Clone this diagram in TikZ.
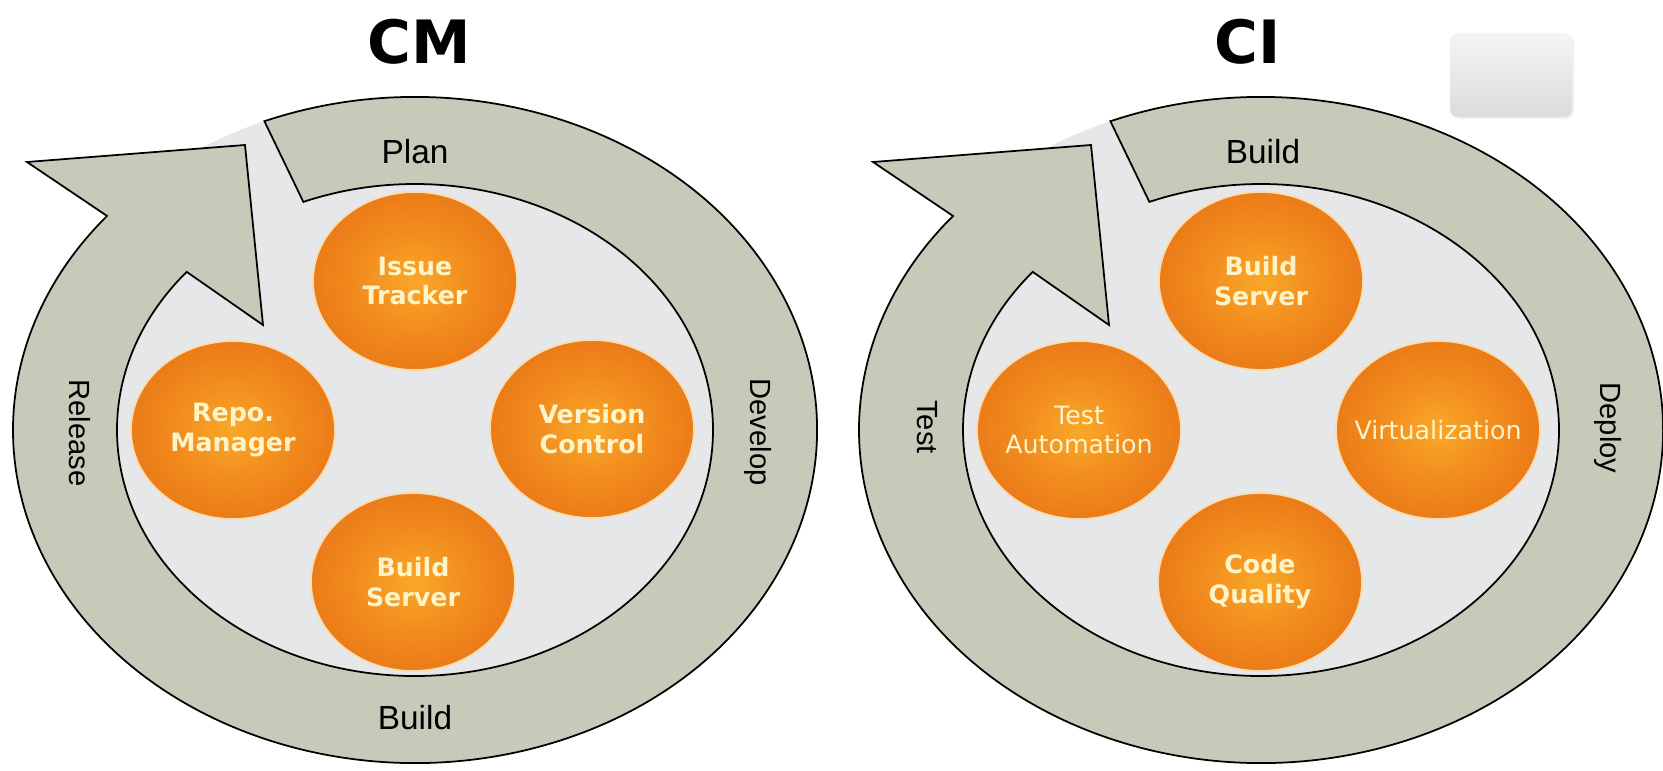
\documentclass[tikz,border=0pt]{standalone}
\usepackage{fontspec}
\usepackage{tikz}
\usetikzlibrary{shapes.geometric,shadows}

\newfontfamily\bubblefont{DejaVu Sans}
\newfontfamily\phasefont{Liberation Sans}

\definecolor{ringgray}{HTML}{C9C9B9}
\definecolor{fieldgray}{HTML}{E6E7E9}
\definecolor{bubblein}{HTML}{F9A828}
\definecolor{bubblemid}{HTML}{F28C1E}
\definecolor{bubbleout}{HTML}{E0630F}
\definecolor{bubbleedge}{HTML}{F8DDB2}
\definecolor{bubbletext}{HTML}{FFF3C8}

\pgfdeclareradialshading{bubble}{\pgfpoint{0bp}{0bp}}{color(0bp)=(bubblein); color(14bp)=(bubblemid); color(42bp)=(bubbleout); color(50bp)=(bubbleout)}

\begin{document}
\begin{tikzpicture}[
	ring/.style={fill=ringgray, draw=black, line width=0.5pt},
	tool/.style={shape=ellipse, minimum width=2.04cm, minimum height=1.78cm, inner sep=0pt, inner xsep=-4mm, shade, shading=bubble, draw=bubbleedge, line width=0.5pt, text=bubbletext, align=center, font=\bubblefont\bfseries\fontsize{7.2}{8.5}\selectfont},
	toolthin/.style={tool, font=\bubblefont\fontsize{7.2}{8.5}\selectfont},
	phase/.style={font=\phasefont\fontsize{9.5}{11}\selectfont},
	sidephase/.style={rotate=-90, font=\phasefont\fontsize{8.3}{10}\selectfont},
	title/.style={font=\bubblefont\bfseries\fontsize{17}{20}\selectfont}
	]
	
	\useasboundingbox (0, 0) rectangle (16.63, 7.70);
	
	\begin{scope}[shift={(4.15, 3.40)}]
		\fill[fieldgray] (0, 0) ellipse [x radius=4.02cm, y radius=3.33cm];
		\path[ring] (112:4.02cm and 3.33cm) arc[start angle=112, end angle=-220, x radius=4.02cm, y radius=3.33cm] -- (-3.88, 2.68) -- (-1.70, 2.85) -- (-1.52, 1.05) -- (-220:2.98cm and 2.46cm) arc[start angle=-220, end angle=112, x radius=2.98cm, y radius=2.46cm] -- cycle;
	\end{scope}
	
	\begin{scope}[shift={(12.61, 3.40)}]
		\fill[fieldgray] (0, 0) ellipse [x radius=4.02cm, y radius=3.33cm];
		\path[ring] (112:4.02cm and 3.33cm) arc[start angle=112, end angle=-220, x radius=4.02cm, y radius=3.33cm] -- (-3.88, 2.68) -- (-1.70, 2.85) -- (-1.52, 1.05) -- (-220:2.98cm and 2.46cm) arc[start angle=-220, end angle=112, x radius=2.98cm, y radius=2.46cm] -- cycle;
	\end{scope}
	
	\node[title] (cm) at (4.19, 7.28) {CM};
	\node[title] (ci) at (12.48, 7.28) {CI};
	
	\node[phase] (plan) at (4.15, 6.18) {Plan};
	\node[sidephase] (develop) at (7.58, 3.38) {Develop};
	\node[phase] (cmbuild) at (4.15, 0.52) {Build};
	\node[sidephase] (release) at (0.80, 3.37) {Release};
	
	\node[phase] (cibuild) at (12.63, 6.18) {Build};
	\node[sidephase] (deploy) at (16.08, 3.42) {Deploy};
	\node[sidephase] (test) at (9.27, 3.43) {Test};
	
	\node[tool] (issue) at (4.15, 4.89) {Issue\\Tracker};
	\node[tool] (repo) at (2.33, 3.40) {Repo.\\Manager};
	\node[tool] (version) at (5.92, 3.41) {Version\\Control};
	\node[tool] (cmserver) at (4.13, 1.88) {Build\\Server};
	
	\node[tool] (ciserver) at (12.61, 4.89) {Build\\Server};
	\node[toolthin] (automation) at (10.79, 3.40) {Test\\Automation};
	\node[toolthin] (virtual) at (14.38, 3.40) {Virtualization};
	\node[tool] (quality) at (12.60, 1.88) {Code\\Quality};
	
	\node[shape=rectangle, minimum width=1.22cm, minimum height=0.84cm, rounded corners=0.08cm, top color=gray!8, bottom color=gray!28, drop shadow={opacity=0.12, shadow xshift=0.02cm, shadow yshift=-0.02cm}] (note) at (15.11, 6.95) {};
	
\end{tikzpicture}
\end{document}
